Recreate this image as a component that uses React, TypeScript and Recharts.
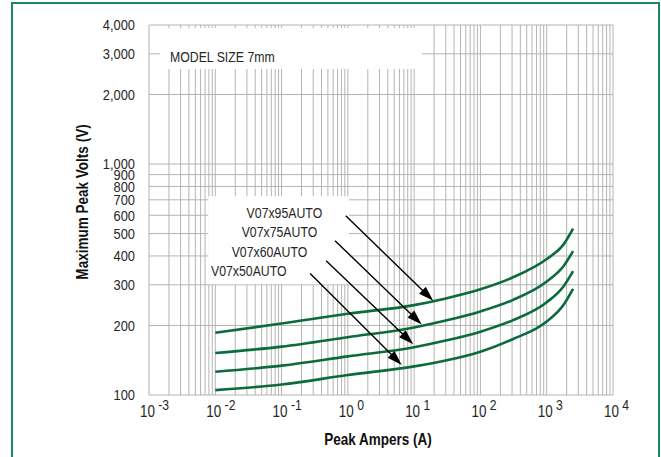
import React from "react";
import {
  LineChart,
  Line,
  XAxis,
  YAxis,
  CartesianGrid,
  ReferenceArea,
  ReferenceLine,
  ReferenceDot,
} from "recharts";

// ---- data ----
const currents = [0.01, 0.1, 1, 10, 30, 100, 300, 1000, 1800, 2500];
const v95 = [186, 204, 225, 245, 262, 287, 322, 388, 449, 525];
const v75 = [152, 162, 178, 196, 210, 230, 257, 310, 362, 420];
const v60 = [126, 134, 147, 161, 172, 188, 210, 252, 296, 344];
const v50 = [105, 111, 122, 133, 141, 154, 174, 208, 246, 288];

const seriesNames = ["V07x95AUTO", "V07x75AUTO", "V07x60AUTO", "V07x50AUTO"];
const seriesKeys = ["v95", "v75", "v60", "v50"];

const xExponents = [-3, -2, -1, 0, 1, 2, 3, 4];
const xTicks = xExponents.map((e) => Math.pow(10, e));
const yTicks = [100, 200, 300, 400, 500, 600, 700, 800, 900, 1000, 2000, 3000, 4000];

// minor grid values
const xGrid: number[] = [];
for (let e = -3; e < 4; e++) for (let m = 1; m <= 9; m++) xGrid.push(m * Math.pow(10, e));
xGrid.push(10000);
const yGrid = yTicks;

// annotation label anchors (right edge, vertical centre) and arrows (start -> tip)
const labelX = [0.41, 0.345, 0.244, 0.119];
const labelY = [615, 506, 415, 345];
const arrowStart = [
  { x: 0.93, y: 597 },
  { x: 0.64, y: 466 },
  { x: 0.47, y: 381 },
  { x: 0.27, y: 336 },
];
const arrowEnd = [
  { x: 19.4, y: 256 },
  { x: 13, y: 202 },
  { x: 9.7, y: 166 },
  { x: 6.5, y: 135 },
];

const modelLabel = "MODEL SIZE 7mm";

const data = currents.map((c, i) => ({
  a: c,
  v95: v95[i],
  v75: v75[i],
  v60: v60[i],
  v50: v50[i],
}));

const FONT = "'Liberation Sans', Arial, sans-serif";
const GREEN = "#0b6b3c";
const GRID = "#b4b4b4";
const TXT = "#262626";

type NTextProps = {
  x: number;
  y: number;
  anchor?: "start" | "middle" | "end";
  size: number;
  bold?: boolean;
  rotate?: number;
  sx?: number;
  baseline?: string;
  fill?: string;
  children?: React.ReactNode;
};

// condensed text: real <text>, horizontally compressed
const NText = ({ x, y, anchor = "start", size, bold, rotate = 0, sx = 0.82, baseline, fill = TXT, children }: NTextProps) => (
  <text
    transform={`translate(${x},${y}) rotate(${rotate}) scale(${sx},1)`}
    x={0}
    y={0}
    textAnchor={anchor}
    dominantBaseline={baseline}
    fontFamily={FONT}
    fontSize={size}
    fontWeight={bold ? "bold" : "normal"}
    fill={fill}
  >
    {children}
  </text>
);

const YTick = (props: any) => {
  const { x, y, payload } = props;
  return (
    <NText x={x - 6} y={y} anchor="end" size={15.5} sx={0.83} baseline="central">
      {Number(payload.value).toLocaleString("en-US")}
    </NText>
  );
};

const XTick = (props: any) => {
  const { x, y, payload } = props;
  const e = Math.round(Math.log10(payload.value));
  return (
    <NText x={x - 9} y={y + 14} size={16} sx={0.84}>
      10
      <tspan dx={4} dy={-7} fontSize={14.5}>
        {e < 0 ? "-" + Math.abs(e) : String(e)}
      </tspan>
    </NText>
  );
};

const Arrow = (props: any) => {
  const { x1, y1, x2, y2 } = props;
  const dx = x2 - x1;
  const dy = y2 - y1;
  const len = Math.sqrt(dx * dx + dy * dy) || 1;
  const ux = dx / len;
  const uy = dy / len;
  const L = 15;
  const W = 4.8;
  const bx = x2 - ux * L;
  const by = y2 - uy * L;
  const p1 = `${x2},${y2}`;
  const p2 = `${bx - uy * W},${by + ux * W}`;
  const p3 = `${bx + uy * W},${by - ux * W}`;
  return (
    <g>
      <line x1={x1} y1={y1} x2={x2 - ux * 10} y2={y2 - uy * 10} stroke="#000" strokeWidth={1.4} />
      <polygon points={`${p1} ${p2} ${p3}`} fill="#000" />
    </g>
  );
};

const makeLabel = (text: string, anchor: "start" | "end", size: number, sx: number) => (props: any) => (
  <NText x={props.cx} y={props.cy} anchor={anchor} size={size} sx={sx} baseline="central">
    {text}
  </NText>
);

export default function App() {
  return (
    <div style={{ position: "absolute", left: 0, top: 0, width: 661, height: 457, background: "#fff", overflow: "hidden" }}>
      <div
        style={{
          position: "absolute",
          left: 11,
          top: 2,
          width: 649,
          height: 470,
          boxSizing: "border-box",
          border: "2px solid #1b8a5a",
        }}
      />
      <div style={{ position: "absolute", left: 0, top: 0 }}>
        <LineChart width={661} height={457} data={data} margin={{ top: 25, right: 48, bottom: 32, left: 0 }}>
          <CartesianGrid
            stroke={GRID}
            strokeWidth={1}
            verticalValues={xGrid}
            horizontalValues={yGrid}
            syncWithTicks={false}
          />
          <XAxis
            dataKey="a"
            type="number"
            scale="log"
            domain={[0.001, 10000]}
            ticks={xTicks}
            allowDataOverflow
            axisLine={false}
            tickLine={false}
            height={30}
            interval={0}
            tick={<XTick />}
            label={(p: any) => {
              const vb = p.viewBox;
              return (
                <NText
                  x={vb.x + vb.width / 2 - 3}
                  y={vb.y + 44}
                  anchor="middle"
                  baseline="central"
                  size={16.5}
                  bold
                  fill="#111"
                >
                  Peak Ampers (A)
                </NText>
              );
            }}
          />
          <YAxis
            type="number"
            scale="log"
            domain={[100, 4000]}
            ticks={yTicks}
            allowDataOverflow
            axisLine={false}
            tickLine={false}
            width={149}
            interval={0}
            tick={<YTick />}
            label={(p: any) => {
              const vb = p.viewBox;
              return (
                <NText
                  x={82}
                  y={vb.y + vb.height / 2 - 8}
                  anchor="middle"
                  baseline="central"
                  rotate={-90}
                  size={16.5}
                  bold
                  fill="#111"
                >
                  Maximum Peak Volts (V)
                </NText>
              );
            }}
          />
          <ReferenceArea x1={0.00147} x2={13.1} y1={2580} y2={3880} fill="#fff" fillOpacity={1} stroke="none" />
          <ReferenceArea x1={0.0078} x2={1.04} y1={302} y2={725} fill="#fff" fillOpacity={1} stroke="none" />
          {seriesKeys.map((k) => (
            <Line
              key={k}
              dataKey={k}
              type="monotone"
              stroke={GREEN}
              strokeWidth={2.6}
              dot={false}
              activeDot={false}
              isAnimationActive={false}
            />
          ))}
          <ReferenceDot x={0.002074} y={2906} r={1} shape={makeLabel(modelLabel, "start", 15, 0.82)} />
          {seriesNames.map((n, i) => (
            <ReferenceDot key={n} x={labelX[i]} y={labelY[i]} r={1} shape={makeLabel(n, "end", 15, 0.82)} />
          ))}
          {arrowStart.map((s, i) => (
            <ReferenceLine key={"ar" + i} segment={[s, arrowEnd[i]]} shape={<Arrow />} />
          ))}
        </LineChart>
      </div>
    </div>
  );
}
